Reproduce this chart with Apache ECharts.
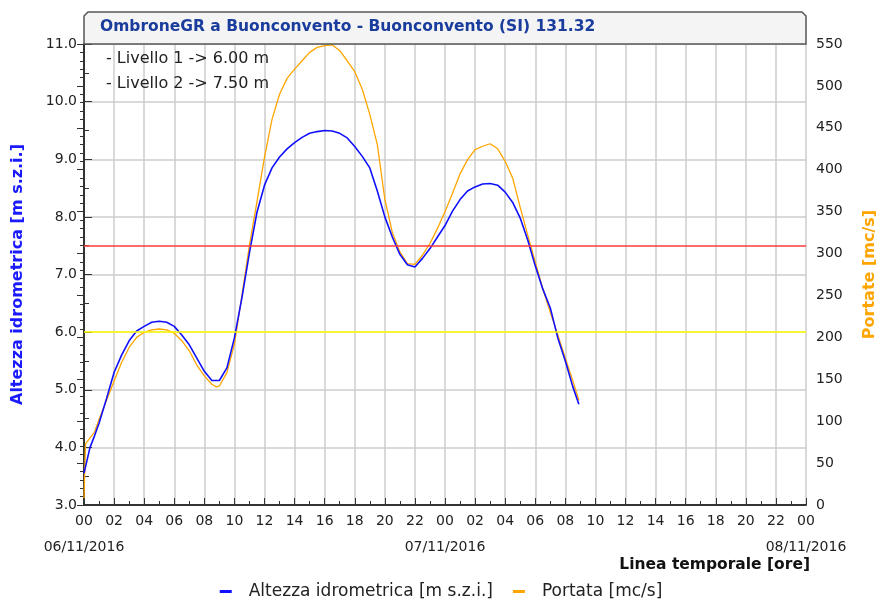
<!DOCTYPE html>
<html>
<head>
<meta charset="utf-8">
<script src="https://cdn.jsdelivr.net/npm/echarts@6/dist/echarts.min.js"></script>
<style>
html, body { margin: 0; padding: 0; background: #fff; }
#chart { width: 882px; height: 601px; }
</style>
</head>
<body>
<div id="chart"></div>
<script>
// ore dall'inizio del 06/11/2016
var livelloOre = [0, 0.4, 0.7, 1, 1.5, 2, 2.5, 3, 3.5, 4, 4.5, 5, 5.5, 6, 6.5, 7, 7.5, 8, 8.5, 9, 9.5, 10, 10.5, 11, 11.5, 12,
	12.5, 13, 13.5, 14, 14.5, 15, 15.5, 16, 16.5, 17, 17.5, 18, 18.5, 19, 19.5, 20, 20.5, 21, 21.5, 22, 22.5, 23, 23.5, 24,
	24.5, 25, 25.5, 26, 26.5, 27, 27.5, 28, 28.5, 29, 29.5, 30, 30.5, 31, 31.5, 32, 32.5, 32.9];
var livelloValori = [3.55, 4.0, 4.2, 4.42, 4.85, 5.3, 5.6, 5.85, 6.02, 6.1, 6.17, 6.19, 6.17, 6.1, 5.95, 5.78, 5.55, 5.32, 5.16, 5.16,
	5.38, 5.9, 6.6, 7.38, 8.08, 8.55, 8.85, 9.04, 9.18, 9.29, 9.38, 9.45, 9.48, 9.5, 9.49, 9.45, 9.37, 9.22, 9.05, 8.85, 8.45,
	8.0, 7.65, 7.35, 7.17, 7.13, 7.28, 7.45, 7.65, 7.85, 8.1, 8.3, 8.45, 8.52, 8.57, 8.58, 8.55, 8.43, 8.25, 7.98, 7.6, 7.15,
	6.75, 6.42, 5.9, 5.5, 5.05, 4.75];

var portataOre = [0, 0.1, 0.7, 1, 1.5, 2, 2.5, 3, 3.5, 4, 4.5, 5, 5.5, 6, 6.5, 7, 7.5, 8, 8.5, 8.8, 9, 9.5, 10, 10.5, 11, 11.5,
	12, 12.5, 13, 13.5, 14, 14.5, 15, 15.5, 16, 16.5, 17, 17.5, 18, 18.5, 19, 19.5, 20, 20.5, 21, 21.5, 22, 22.5, 23, 23.5,
	24, 24.5, 25, 25.5, 26, 26.5, 27, 27.5, 28, 28.5, 29, 29.5, 30, 30.5, 31, 31.5, 32, 32.5, 32.9];
var portataValori = [8, 73, 87, 102, 125, 148, 170, 188, 200, 206, 209, 210, 209, 205, 196, 184, 167, 154, 144, 141, 142, 158,
	192, 250, 310, 362, 415, 460, 490, 509, 520, 530, 540, 546, 548, 549, 542, 530, 517, 496, 466, 430, 365, 325, 302, 288,
	287, 298, 312, 330, 350, 372, 395, 412, 424, 428, 431, 425, 410, 390, 355, 322, 290, 258, 230, 203, 175, 148, 125];

var soglie = [6.0, 7.5];
var date = ['06/11/2016', '07/11/2016', '08/11/2016'];

var font = 'DejaVu Sans';

var myChart = echarts.init(document.getElementById('chart'));

function coppie(x, y) {
	var out = [];
	for (var i = 0; i < x.length; i++) out.push([x[i], y[i]]);
	return out;
}

var option = {
	animation: false,
	textStyle: { fontFamily: font },
	grid: { left: 84, right: 76, top: 44, bottom: 96, containLabel: false, outerBoundsMode: 'none' },
	legend: {
		bottom: -4,
		left: 'center',
		icon: 'rect',
		itemWidth: 12,
		itemHeight: 3,
		itemGap: 20,
		textStyle: { fontFamily: font, fontSize: 17, color: '#222', padding: [0, 0, 0, 12] },
		data: ['Altezza idrometrica [m s.z.i.]', 'Portata [mc/s]']
	},
	xAxis: [{
		type: 'value',
		min: 0,
		max: 48,
		interval: 2,
		axisLine: { lineStyle: { color: '#333', width: 2 } },
		axisTick: { inside: true, length: 7, lineStyle: { color: '#333' } },
		minorTick: { show: true, splitNumber: 2, length: 4, lineStyle: { color: '#333' } },
		splitLine: { lineStyle: { color: '#cccccc', width: 1.5 } },
		axisLabel: {
			color: '#222',
			fontSize: 14,
			margin: 9,
			showMinLabel: true,
			showMaxLabel: true,
			formatter: function(v) {
				var h = v % 24;
				return (h < 10 ? '0' : '') + h;
			}
		}
	}, {
		// riga delle date sotto le ore
		type: 'value',
		position: 'bottom',
		min: 0,
		max: 48,
		interval: 24,
		axisLine: { show: false },
		axisTick: { show: false },
		splitLine: { show: false },
		axisLabel: {
			color: '#222',
			fontSize: 14,
			margin: 35,
			showMinLabel: true,
			showMaxLabel: true,
			formatter: function(v) { return date[v / 24]; }
		}
	}],
	yAxis: [{
		type: 'value',
		min: 3,
		max: 11,
		interval: 1,
		name: 'Altezza idrometrica [m s.z.i.]',
		nameLocation: 'middle',
		nameRotate: 90,
		nameGap: 58,
		nameTextStyle: { color: '#1a1aff', fontWeight: 'bold', fontSize: 16, fontFamily: font },
		axisLine: { show: true, lineStyle: { color: '#333', width: 2 } },
		axisTick: { show: true, inside: true, length: 8, lineStyle: { color: '#333' } },
		minorTick: { show: true, splitNumber: 2, length: 5, lineStyle: { color: '#333' } },
		splitLine: { lineStyle: { color: '#cccccc', width: 1.5 } },
		axisLabel: { color: '#222', fontSize: 14, margin: 7, formatter: function(v) { return v.toFixed(1); } }
	}, {
		type: 'value',
		min: 0,
		max: 550,
		interval: 50,
		position: 'right',
		name: 'Portate [mc/s]',
		nameLocation: 'middle',
		nameRotate: 90,
		nameGap: 56,
		nameTextStyle: { color: '#ffa500', fontWeight: 'bold', fontSize: 16, fontFamily: font },
		axisLine: { show: true, lineStyle: { color: '#333', width: 2 } },
		axisTick: { show: true, inside: true, length: 7, lineStyle: { color: '#333' } },
		minorTick: { show: true, splitNumber: 5, length: 4, lineStyle: { color: '#333' } },
		splitLine: { show: false },
		axisLabel: { color: '#222', fontSize: 14, margin: 10 }
	}],
	series: [{
		name: 'Altezza idrometrica [m s.z.i.]',
		type: 'line',
		yAxisIndex: 0,
		showSymbol: false,
		color: '#1010ff',
		lineStyle: { width: 1.6, color: '#1010ff' },
		data: coppie(livelloOre, livelloValori),
		z: 4,
		markLine: {
			silent: true,
			symbol: 'none',
			label: { show: false },
			data: [
				{ yAxis: soglie[0], lineStyle: { color: '#ffff00', width: 1.5, type: 'solid' } },
				{ yAxis: soglie[1], lineStyle: { color: '#ff3b3b', width: 1.5, type: 'solid' } }
			]
		}
	}, {
		name: 'Portata [mc/s]',
		type: 'line',
		yAxisIndex: 1,
		showSymbol: false,
		color: '#ffa500',
		lineStyle: { width: 1.3, color: '#ffa500' },
		data: coppie(portataOre, portataValori),
		z: 3
	}],
	graphic: [{
		type: 'polygon',
		shape: { points: [[84, 44], [84, 16], [88, 12], [802, 12], [806, 16], [806, 44]] },
		style: { fill: '#f4f4f4', stroke: '#555', lineWidth: 1.5 },
		z: 10
	}, {
		type: 'text',
		left: 100,
		top: 19,
		style: { text: 'OmbroneGR a Buonconvento - Buonconvento (SI) 131.32', fill: '#1a3c9c', font: 'bold 15.5px "DejaVu Sans"' },
		z: 11
	}, {
		type: 'text',
		left: 106,
		top: 51,
		style: { text: '- Livello 1 -> 6.00 m', fill: '#222', font: '16px "DejaVu Sans"' },
		z: 11
	}, {
		type: 'text',
		left: 106,
		top: 76,
		style: { text: '- Livello 2 -> 7.50 m', fill: '#222', font: '16px "DejaVu Sans"' },
		z: 11
	}, {
		type: 'text',
		right: 72,
		top: 557,
		style: { text: 'Linea temporale [ore]', fill: '#111', font: 'bold 15.5px "DejaVu Sans"', align: 'right' },
		z: 11
	}]
};

myChart.setOption(option);
</script>
</body>
</html>
